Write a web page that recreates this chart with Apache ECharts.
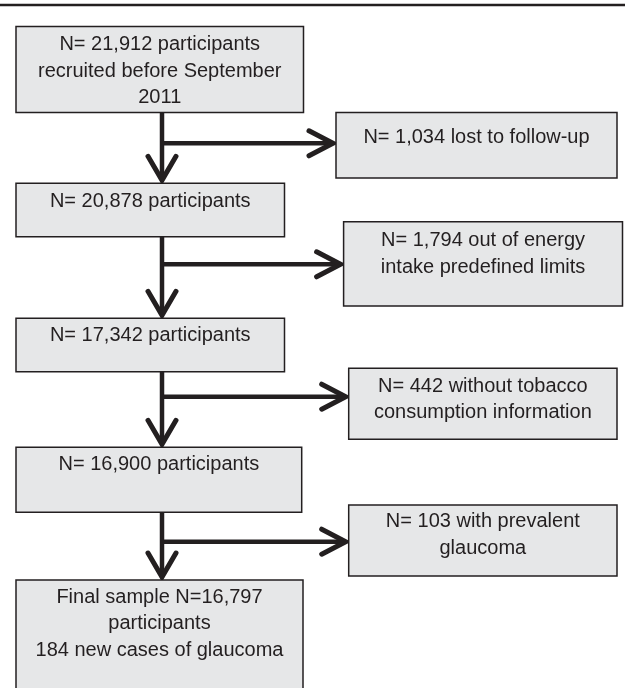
<!DOCTYPE html>
<html>
<head>
<meta charset="utf-8">
<script src="https://cdn.jsdelivr.net/npm/echarts@6/dist/echarts.min.js"></script>
<style>
html, body { margin: 0; padding: 0; background: #fff; }
#flow { width: 625px; height: 688px; }
</style>
</head>
<body>
<div id="flow"></div>
<script>
// participants left after each step
var remaining = [21912, 20878, 17342, 16900, 16797];
// excluded at each step, and why
var excluded = [1034, 1794, 442, 103];
var reasons = ['lost to follow-up', 'out of energy\nintake predefined limits',
    'without tobacco\nconsumption information', 'with prevalent\nglaucoma'];
var newCases = 184;

function fmt(n) { return n.toLocaleString('en-US'); }

var mainText = [
    'N= ' + fmt(remaining[0]) + ' participants\nrecruited before September\n2011',
    'N= ' + fmt(remaining[1]) + ' participants',
    'N= ' + fmt(remaining[2]) + ' participants',
    'N= ' + fmt(remaining[3]) + ' participants',
    'Final sample N=' + fmt(remaining[4]) + '\nparticipants\n' + newCases + ' new cases of glaucoma'
];
var sideText = excluded.map(function (n, i) { return 'N= ' + fmt(n) + ' ' + reasons[i]; });
var allText = mainText.concat(sideText);

// layout (pixel units of the hidden axes): x, y, w, h, text pad
var mainLayout = [
    [16, 26.5, 287.5, 86, 5],
    [16, 183.3, 268.5, 53.4, 4.5],
    [16, 318.3, 268.5, 53.4, 4],
    [16, 447.3, 285.7, 65, 3.5],
    [16, 580, 287, 120, 4]
];
var sideLayout = [
    [336, 112.5, 281, 65.5, 12],
    [343.6, 221.7, 278.9, 84.3, 6],
    [348.7, 368.3, 268.3, 71, 4.5],
    [348.7, 505, 268.3, 71, 3.5]
];
var stemX = 162;
var branchY = [143.3, 264.3, 396.7, 541.7];

var boxData = mainLayout.concat(sideLayout).map(function (b, i) {
    return [b[0], b[1], b[2], b[3], i, b[4]];
});
var arrowData = branchY.map(function (by, i) {
    var from = mainLayout[i], to = mainLayout[i + 1];
    return [stemX, from[1] + from[3], to[1], by, sideLayout[i][0]];
});

var ink = '#231f20';
var myChart = echarts.init(document.getElementById('flow'));
var option = {
    animation: false,
    grid: { left: 0, right: 0, top: 0, bottom: 0 },
    xAxis: { type: 'value', min: 0, max: 625, show: false },
    yAxis: { type: 'value', min: 0, max: 688, inverse: true, show: false },
    graphic: [{
        type: 'line',
        shape: { x1: 0, y1: 5, x2: 625, y2: 5 },
        style: { stroke: ink, lineWidth: 2.5 }
    }],
    series: [
        {
            type: 'custom',
            name: 'arrows',
            silent: true,
            data: arrowData,
            renderItem: function (params, api) {
                var x = api.value(0), y0 = api.value(1), y1 = api.value(2);
                var by = api.value(3), bx = api.value(4);
                var a = api.coord([x, y0]), b = api.coord([x, y1 - 1]);
                var c = api.coord([x, by]), d = api.coord([bx - 1, by]);
                var lineStyle = { stroke: ink, lineWidth: 4.5, fill: null };
                var headStyle = { stroke: ink, lineWidth: 5, fill: null, lineCap: 'round', lineJoin: 'miter' };
                return {
                    type: 'group',
                    children: [
                        { type: 'line', shape: { x1: a[0], y1: a[1], x2: b[0], y2: b[1] - 4 }, style: lineStyle },
                        { type: 'polyline', shape: { points: [[b[0] - 14, b[1] - 26], [b[0], b[1] - 2], [b[0] + 14, b[1] - 26]] }, style: headStyle },
                        { type: 'line', shape: { x1: c[0], y1: c[1], x2: d[0] - 4, y2: d[1] }, style: lineStyle },
                        { type: 'polyline', shape: { points: [[d[0] - 26, d[1] - 12.5], [d[0] - 2, d[1]], [d[0] - 26, d[1] + 12.5]] }, style: headStyle }
                    ]
                };
            }
        },
        {
            type: 'custom',
            name: 'boxes',
            silent: true,
            data: boxData,
            renderItem: function (params, api) {
                var p0 = api.coord([api.value(0), api.value(1)]);
                var p1 = api.coord([api.value(0) + api.value(2), api.value(1) + api.value(3)]);
                var idx = api.value(4), pad = api.value(5);
                return {
                    type: 'group',
                    children: [
                        {
                            type: 'rect',
                            shape: { x: p0[0], y: p0[1], width: p1[0] - p0[0], height: p1[1] - p0[1] },
                            style: { fill: '#e6e7e8', stroke: ink, lineWidth: 1.5 }
                        },
                        {
                            type: 'text',
                            x: (p0[0] + p1[0]) / 2,
                            y: p0[1] + pad,
                            style: {
                                text: allText[idx],
                                fill: ink,
                                font: '20px "Liberation Sans", Arial, sans-serif',
                                align: 'center',
                                verticalAlign: 'top',
                                lineHeight: 26.5
                            }
                        }
                    ]
                };
            }
        }
    ]
};
myChart.setOption(option);
</script>
</body>
</html>
